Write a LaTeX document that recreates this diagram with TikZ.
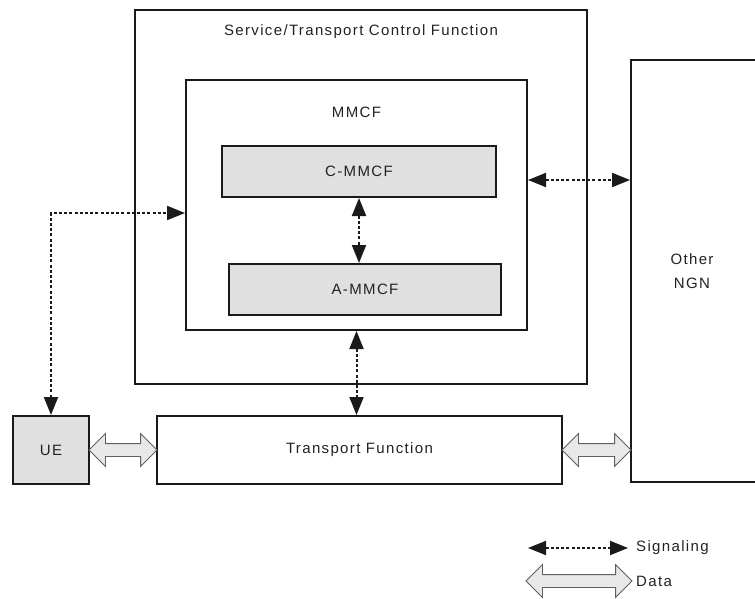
\documentclass[tikz,border=0pt]{standalone}
\usepackage{fontspec}
\setmainfont[LetterSpace=9]{Liberation Sans}
\usepackage{tikz}
\usetikzlibrary{positioning,calc,arrows.meta,shapes.arrows}
\definecolor{ngnline}{HTML}{1A1A1A}
\definecolor{ngnbox}{HTML}{E0E0E0}
\definecolor{ngndata}{HTML}{E8E8E8}
\definecolor{ngnedge}{HTML}{606060}
\definecolor{ngntext}{HTML}{222222}

\begin{document}
\begin{tikzpicture}[x=1pt, y=-1pt,
  block/.style={draw=ngnline, line width=2pt, inner sep=0pt,
    font=\fontsize{15}{17}\selectfont\color{ngntext}},
  fblock/.style={block, fill=ngnbox},
  lbl/.style={font=\fontsize{15}{24}\selectfont\color{ngntext}, inner sep=0pt},
  sig/.style={{Triangle[length=18pt,width=14pt]}-{Triangle[length=18pt,width=14pt]},
    draw=ngnline, line width=2pt, dash pattern=on 3pt off 2.2pt},
  data/.style={double arrow, draw=ngnedge, fill=ngndata, line width=0.8pt,
    inner xsep=0pt, inner ysep=6pt, double arrow head extend=10pt,
    double arrow tip angle=90},
]
\useasboundingbox (0,0) rectangle (755,599);
\clip (0,0) rectangle (755,599);
% ---------- boxes ----------
\node[block, minimum width=452, minimum height=374] (stcf) at (361,197) {};
\node[lbl] (stcftitle) at (361,32) {Service/Transport Control Function};
\node[block, minimum width=341, minimum height=250] (mmcf) at (356.5,205) {};
\node[lbl] (mmcftitle) at (356.5,112) {MMCF};
\node[fblock, minimum width=274, minimum height=51] (cmmcf) at (359,171.5) {C-MMCF};
\node[fblock, minimum width=272, minimum height=51] (ammcf) at (365,289.5) {A-MMCF};
\node[block, minimum width=127, minimum height=422] (ngn) at (694.5,271) {};
\node[lbl, align=center] (ngntitle) at (692,271) {Other\\NGN};
\node[fblock, minimum width=76, minimum height=68] (ue) at (51,450) {UE};
\node[block, minimum width=405, minimum height=68] (tf) at (359.5,450) {Transport Function};

% ---------- signaling ----------
\draw[sig] (cmmcf.south) -- (cmmcf.south |- ammcf.north);
\draw[sig] (mmcf.south) -- (mmcf.south |- tf.north);
\coordinate (sigR) at ($(mmcf.east)+(0,-25)$);
\draw[sig] (sigR) -- (sigR -| ngn.west);
\coordinate (sigL) at ($(mmcf.west)+(0,8)$);
\draw[sig] (ue.north) |- (sigL);

% ---------- data ----------
\coordinate (tfR) at (tf.east -| ngn.west);
\node[data, minimum height=68] (uetf) at ($(ue.east)!0.5!(tf.west)$) {};
\node[data, minimum height=69] (tfngn) at ($(tf.east)!0.5!(tfR)$) {};

% ---------- legend ----------
\coordinate (legA) at (528,548);
\coordinate (legB) at (628,548);
\draw[sig] (legA) -- (legB);
\node[lbl, anchor=west] (legsig) at (636,548) {Signaling};
\node[data, minimum height=106] (legdata) at (579,581) {};
\node[lbl, anchor=west] (legdat) at (636,581) {Data};
\end{tikzpicture}
\end{document}
